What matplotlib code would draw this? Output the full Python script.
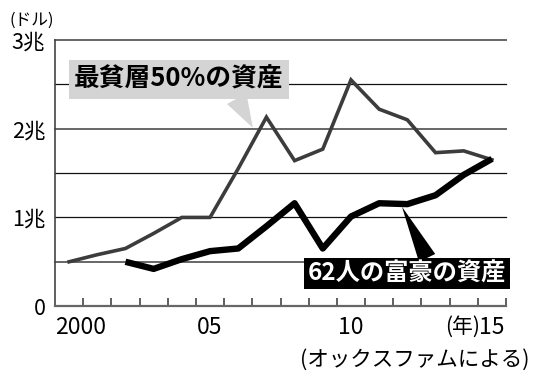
# -*- coding: utf-8 -*-
# 最貧層50%の資産 と 62人の富豪の資産 (オックスファム)
import numpy as np
import matplotlib
matplotlib.use('Agg')
import matplotlib.pyplot as plt

plt.rcParams['font.family'] = ['Noto Sans CJK JP', 'DejaVu Sans']

# データ (兆ドル)
years_poor = list(range(2000, 2016))
poor = [0.50, 0.58, 0.65, 0.82, 1.00, 1.00, 1.55, 2.13,
        1.64, 1.77, 2.55, 2.22, 2.10, 1.73, 1.75, 1.65]
years_rich = list(range(2002, 2016))
rich = [0.50, 0.42, 0.53, 0.62, 0.65, 0.90, 1.16,
        0.65, 1.01, 1.16, 1.15, 1.25, 1.48, 1.66]

ytick_vals = [0, 1, 2, 3]
ytick_labels = ['0', '1兆', '2兆', '3兆']
xtick_vals = [1999.5, 2005, 2010, 2015]
xtick_labels = ['2000', '05', '10', '15']

fig = plt.figure(figsize=(5.5, 3.92), dpi=100)
ax = fig.add_axes([0.1, 0.219, 0.82, 0.679])

# 目盛り線
for i, y in enumerate(np.arange(0.5, 3.01, 0.5)):
    if i % 3 == 0 or y == 3:
        ax.axhline(y, color='#666666', lw=1.4, zorder=1, clip_on=False)
    else:
        ax.axhline(y, color='#111111', lw=0.9, zorder=1, clip_on=False)

ax.plot(years_poor, poor, color='#3c3c3c', lw=2.6, zorder=3,
        solid_joinstyle='miter')
ax.plot(years_rich, rich, color='black', lw=4.6, zorder=4,
        solid_joinstyle='round', solid_capstyle='butt')

ax.set_xlim(1999.5, 2015.5)
ax.set_ylim(0, 3)

for s in ['top', 'right']:
    ax.spines[s].set_visible(False)
ax.spines['left'].set_color('#444444')
ax.spines['left'].set_linewidth(1.2)
ax.spines['bottom'].set_color('#666666')
ax.spines['bottom'].set_linewidth(1.6)

ax.set_yticks(ytick_vals)
ax.set_yticklabels(ytick_labels, fontsize=15.5)
ax.tick_params(axis='y', length=0, pad=7)

ax.set_xticks(xtick_vals)
ax.set_xticklabels(xtick_labels, fontsize=16.5)
ax.get_xticklabels()[0].set_horizontalalignment('left')
ax.set_xticks(np.arange(2000.5, 2015.6, 1), minor=True)
ax.tick_params(axis='x', which='major', length=0, pad=7)
ax.tick_params(axis='x', which='minor', direction='in', length=6,
               width=1.2, color='#444444')

ax.annotate('(年)', xy=(2015, 0), xycoords=('data', 'axes fraction'),
            xytext=(-12, -10), textcoords='offset pixels',
            ha='right', va='top', fontsize=15)

# ラベル
ax.annotate('最貧層50%の資産', xy=(2006.52, 2.01), xytext=(2003.9, 2.555),
            ha='center', va='center', fontsize=18.5, fontweight='bold',
            color='black', zorder=6,
            bbox=dict(boxstyle='square,pad=0.22', fc='#d4d4d4', ec='none'),
            arrowprops=dict(arrowstyle='wedge,tail_width=0.8,shrink_factor=0.5',
                            fc='#d4d4d4', ec='none', relpos=(0.76, 0),
                            shrinkA=0, shrinkB=0, mutation_scale=20))

ax.annotate('62人の富豪の資産', xy=(2011.81, 1.12), xytext=(2011.99, 0.367),
            ha='center', va='center', fontsize=17.5, fontweight='bold',
            color='white', zorder=6, annotation_clip=False,
            bbox=dict(boxstyle='square,pad=0.15', fc='black', ec='none'),
            arrowprops=dict(arrowstyle='wedge,tail_width=0.65,shrink_factor=0.5',
                            fc='black', ec='none', relpos=(0.61, 1),
                            shrinkA=0, shrinkB=0, mutation_scale=20))

fig.text(0.018, 1 - 20 / 392, '(ドル)', va='center', ha='left', fontsize=12)
fig.text(529 / 550, 1 - 360 / 392, '(オックスファムによる)', va='center',
         ha='right', fontsize=15.5)

fig.savefig('out.png', dpi=100)
